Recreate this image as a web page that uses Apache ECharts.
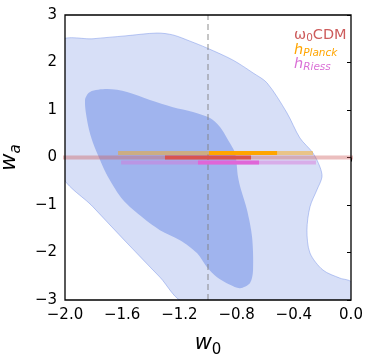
<!DOCTYPE html>
<html>
<head>
<meta charset="utf-8">
<script src="https://cdn.jsdelivr.net/npm/echarts@6/dist/echarts.min.js"></script>
<style>
  html, body { margin: 0; background: #fff; }
  #chart { width: 373px; height: 362px; }
</style>
</head>
<body>
<div id="chart"></div>
<script>
// 95% contour (outer)
const outerW0 = [-2.03, -1.804, -1.58, -1.357, -1.245, -1.126, -1.007, -0.825, -0.685, -0.587, -0.448, -0.357, -0.266, -0.217, -0.203, -0.238, -0.287, -0.308, -0.287, -0.196, -0.077, 0.0, 0.03, -1.16, -1.336, -1.566, -1.804, -2.03]
const outerWa = [2.43, 2.5, 2.56, 2.62, 2.58, 2.45, 2.305, 2.05, 1.78, 1.57, 0.94, 0.41, 0.095, -0.2, -0.41, -0.68, -1.04, -1.53, -2.01, -2.37, -2.54, -2.62, -3.05, -3.05, -2.52, -1.8, -1.04, -0.305]

// 68% contour (inner)
const innerW0 = [-1.86, -1.825, -1.706, -1.566, -1.406, -1.245, -1.105, -0.986, -0.916, -0.86, -0.811, -0.79, -0.769, -0.727, -0.692, -0.685, -0.706, -0.776, -0.846, -0.937, -1.007, -1.077, -1.196, -1.336, -1.455, -1.594, -1.699, -1.755, -1.804, -1.839]
const innerWa = [1.21, 1.38, 1.44, 1.38, 1.21, 1.06, 0.96, 0.83, 0.64, 0.37, 0.095, -0.41, -0.68, -1.105, -1.67, -2.37, -2.64, -2.75, -2.68, -2.52, -2.31, -2.01, -1.74, -1.53, -1.27, -0.895, -0.41, -0.05, 0.305, 0.68]

// w0 ranges of the horizontal bars [wide, narrow] and their wa heights
const cdmWide = [-2.1, 0.1]
const cdmNarrow = [-1.301, -0.699]
const cdmWa = 0.0
const planckWide = [-1.629, -0.266]
const planckNarrow = [-0.993, -0.517]
const planckWa = 0.095
const riessWide = [-1.608, -0.245]
const riessNarrow = [-1.07, -0.643]
const riessWa = -0.105

const lcdmW0 = -1.0

const font = 'DejaVu Sans'
const minus = s => String(s).replace('-', '\u2212')

function blob(w0, wa, fill, stroke) {
  return {
    type: 'custom', clip: true, silent: true,
    data: [[-1, 0]],
    renderItem: (params, api) => ({
      type: 'polygon',
      shape: { points: w0.map((x, i) => api.coord([x, wa[i]])), smooth: 0.3 },
      style: { fill, stroke: stroke || null, lineWidth: stroke ? 1 : 0 }
    })
  }
}

function bar(range, wa, color) {
  return {
    type: 'line', silent: true, symbol: 'none', clip: true,
    data: [[range[0], wa], [range[1], wa]],
    lineStyle: { color, width: 4, cap: 'butt' }
  }
}

function legendLine(y, main, sub, color, italic) {
  return {
    type: 'text', x: 0, y,
    style: { text: `{a|${main}}{s|${sub}}` + (italic ? '' : '{a|CDM}'), rich: {
      a: { fontFamily: font, fontStyle: italic ? 'italic' : 'normal', fontSize: 14.5, fill: color, lineHeight: 17, verticalAlign: 'middle' },
      s: { fontFamily: font, fontStyle: italic ? 'italic' : 'normal', fontSize: 10.5, fill: color, lineHeight: 11, verticalAlign: 'bottom' }
    } }
  }
}

const chart = echarts.init(document.getElementById('chart'))
chart.setOption({
  animation: false,
  grid: { left: 65, top: 15, width: 286, height: 285, show: true, z: 10,
    containLabel: false, outerBoundsMode: 'none',
    backgroundColor: 'transparent', borderColor: '#000', borderWidth: 1.3 },
  xAxis: {
    type: 'value', min: -2.0, max: 0.0, interval: 0.4,
    name: '{i|w}{s|0}', nameLocation: 'middle', nameGap: 30,
    nameTextStyle: { rich: {
      i: { fontFamily: font, fontStyle: 'italic', fontSize: 21, lineHeight: 28, verticalAlign: 'middle', color: '#000' },
      s: { fontFamily: font, fontSize: 15, lineHeight: 15, verticalAlign: 'bottom', color: '#000' }
    } },
    axisLine: { show: false },
    axisTick: { length: 4, lineStyle: { color: '#000', width: 1 } },
    axisLabel: { margin: 8, fontFamily: font, fontSize: 15, color: '#000',
      formatter: v => minus(Math.abs(v) < 1e-9 ? '0.0' : v.toFixed(1)) },
    splitLine: { show: false }
  },
  yAxis: {
    type: 'value', min: -3, max: 3, interval: 1,
    name: '{i|w}{s|a}', nameLocation: 'middle', nameGap: 36, nameRotate: 90,
    nameTextStyle: { rich: {
      i: { fontFamily: font, fontStyle: 'italic', fontSize: 21, lineHeight: 28, verticalAlign: 'middle', color: '#000' },
      s: { fontFamily: font, fontStyle: 'italic', fontSize: 15, lineHeight: 15, verticalAlign: 'bottom', color: '#000' }
    } },
    axisLine: { show: false },
    axisTick: { length: 4, lineStyle: { color: '#000', width: 1 } },
    axisLabel: { margin: 8, fontFamily: font, fontSize: 15, color: '#000', formatter: v => minus(v) },
    splitLine: { show: false }
  },
  graphic: [{
    type: 'group', left: 294, top: 28, children: [
      legendLine(0, 'ω', '0', '#cd5c5c', false),
      legendLine(14.5, 'h', 'Planck', '#ffa500', true),
      legendLine(29, 'h', 'Riess', '#da70d6', true)
    ]
  }],
  series: [
    blob(outerW0, outerWa, '#d7dff7', 'rgba(110,140,230,0.45)'),
    blob(innerW0, innerWa, '#a0b4ee'),
    {
      type: 'line', silent: true, symbol: 'none', clip: true,
      data: [[lcdmW0, -3], [lcdmW0, 3]],
      lineStyle: { color: 'rgba(128,128,128,0.45)', width: 2, type: [6, 4] }
    },
    bar(cdmWide, cdmWa, 'rgba(205,92,92,0.4)'),
    bar(planckWide, planckWa, 'rgba(255,165,0,0.45)'),
    bar(riessWide, riessWa, 'rgba(218,112,214,0.45)'),
    bar(planckNarrow, planckWa, '#ffa500'),
    bar(cdmNarrow, cdmWa, '#d9534f'),
    bar(riessNarrow, riessWa, '#e066d8')
  ]
})
</script>
</body>
</html>
